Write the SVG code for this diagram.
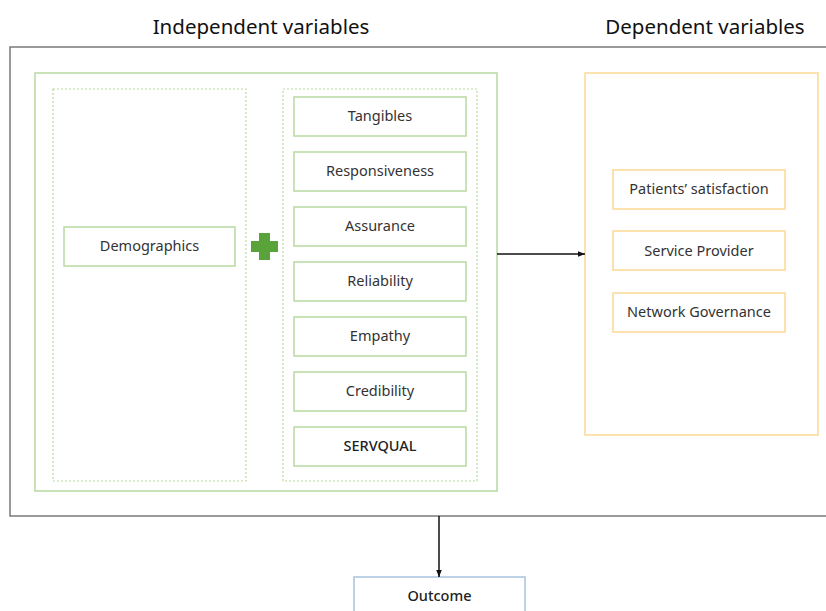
<svg xmlns="http://www.w3.org/2000/svg" width="826" height="611" viewBox="0 0 826 611">
  <defs>
    <marker id="arrow" viewBox="0 0 10 10" refX="10" refY="5" markerWidth="7" markerHeight="7" orient="auto" markerUnits="userSpaceOnUse">
      <path d="M0,1 L10,5 L0,9 z" fill="#111"/>
    </marker>
    <style>
      text { font-family: "Noto Sans", "Open Sans", sans-serif; fill: #222; text-anchor: middle; dominant-baseline: central; }
      .title { font-size: 20.5px; fill: #111; }
      .lbl { font-size: 14.5px; fill: #333; }
      .g { fill: #fff; stroke: #b8d9a0; stroke-width: 1.5; }
      .gd { fill: none; stroke: #b8d9a0; stroke-width: 1.2; stroke-dasharray: 2 2; }
      .o { fill: #fff; stroke: #fcd995; stroke-width: 1.5; }
      .b { fill: #fff; stroke: #a9c4e0; stroke-width: 1.5; }
      .edge { stroke: #111; stroke-width: 1.5; fill: none; }
    </style>
  </defs>
  <rect width="826" height="611" fill="#fff"/>

  <text class="title" x="261" y="26">Independent variables</text>
  <text class="title" x="705" y="26">Dependent variables</text>

  <!-- outer frame -->
  <rect x="10" y="47" width="830" height="469" fill="none" stroke="#7a7a7a" stroke-width="1.5"/>

  <!-- independent block -->
  <g id="independent">
    <rect class="g" x="35" y="73" width="462" height="418"/>
    <rect class="gd" x="53" y="89" width="193" height="392"/>
    <rect class="gd" x="283" y="89" width="194" height="392"/>
  </g>

  <g id="demographics">
    <rect class="g" x="64" y="227" width="171" height="39"/>
    <text class="lbl" x="149.5" y="245">Demographics</text>
  </g>

  <g id="plus">
    <path d="M259,233 h11 v8 h8 v11 h-8 v8 h-11 v-8 h-8 v-11 h8 z" fill="#5aa33a"/>
  </g>

  <g id="tangibles">
    <rect class="g" x="294" y="97" width="172" height="39"/>
    <text class="lbl" x="380" y="115">Tangibles</text>
  </g>
  <g id="responsiveness">
    <rect class="g" x="294" y="152" width="172" height="39"/>
    <text class="lbl" x="380" y="170">Responsiveness</text>
  </g>
  <g id="assurance">
    <rect class="g" x="294" y="207" width="172" height="39"/>
    <text class="lbl" x="380" y="225">Assurance</text>
  </g>
  <g id="reliability">
    <rect class="g" x="294" y="262" width="172" height="39"/>
    <text class="lbl" x="380" y="280">Reliability</text>
  </g>
  <g id="empathy">
    <rect class="g" x="294" y="317" width="172" height="39"/>
    <text class="lbl" x="380" y="335">Empathy</text>
  </g>
  <g id="credibility">
    <rect class="g" x="294" y="372" width="172" height="39"/>
    <text class="lbl" x="380" y="390">Credibility</text>
  </g>
  <g id="servqual">
    <rect class="g" x="294" y="427" width="172" height="39"/>
    <text class="lbl" x="380" y="445" style="font-weight:500;fill:#222">SERVQUAL</text>
  </g>

  <!-- dependent block -->
  <g id="dependent">
    <rect class="o" x="585" y="73" width="233" height="362"/>
  </g>
  <g id="satisfaction">
    <rect class="o" x="613" y="170" width="172" height="39"/>
    <text class="lbl" x="699" y="188">Patients’ satisfaction</text>
  </g>
  <g id="provider">
    <rect class="o" x="613" y="231" width="172" height="39"/>
    <text class="lbl" x="699" y="250">Service Provider</text>
  </g>
  <g id="governance">
    <rect class="o" x="613" y="293" width="172" height="39"/>
    <text class="lbl" x="699" y="311">Network Governance</text>
  </g>

  <g id="outcome">
    <rect class="b" x="354" y="577" width="171" height="50"/>
    <text class="lbl" x="439.5" y="595" style="font-weight:500;fill:#222">Outcome</text>
  </g>

  <g id="connectors">
    <line class="edge" x1="497" y1="254" x2="585" y2="254" marker-end="url(#arrow)"/>
    <line class="edge" x1="439" y1="516" x2="439" y2="577" marker-end="url(#arrow)"/>
  </g>
</svg>
